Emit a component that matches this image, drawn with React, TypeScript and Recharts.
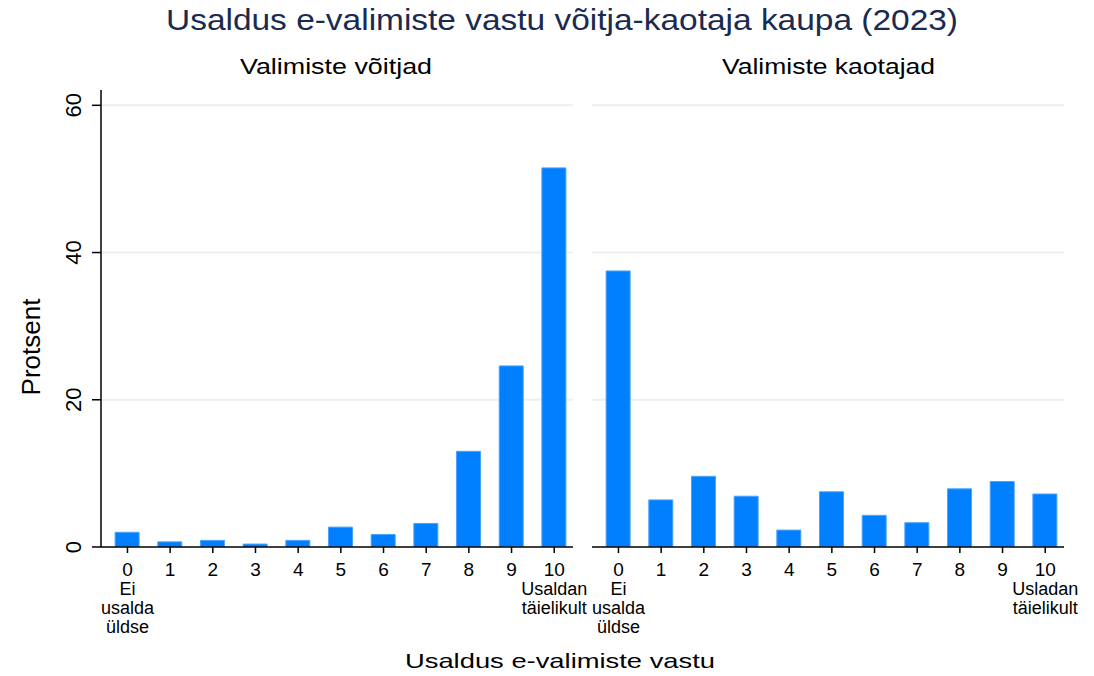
import React from "react";
import { BarChart, Bar, XAxis, YAxis, CartesianGrid } from "recharts";

const categories = [0, 1, 2, 3, 4, 5, 6, 7, 8, 9, 10];
const winners = [2.0, 0.7, 0.9, 0.4, 0.9, 2.7, 1.7, 3.2, 13.0, 24.6, 51.5];
const losers = [37.5, 6.4, 9.6, 6.9, 2.3, 7.5, 4.3, 3.3, 7.9, 8.9, 7.2];
const yTicks = [0, 20, 40, 60];
const winnerTickLabels: Record<number, string[]> = {
  0: ["0", "Ei", "usalda", "üldse"],
  10: ["10", "Usaldan", "täielikult"],
};
const loserTickLabels: Record<number, string[]> = {
  0: ["0", "Ei", "usalda", "üldse"],
  10: ["10", "Usladan", "täielikult"],
};

const TITLE = "Usaldus e-valimiste vastu võitja-kaotaja kaupa (2023)";
const PANEL_LEFT = "Valimiste võitjad";
const PANEL_RIGHT = "Valimiste kaotajad";
const X_TITLE = "Usaldus e-valimiste vastu";
const Y_TITLE = "Protsent";

const FONT = "'Liberation Sans', Arial, Helvetica, sans-serif";
const BAR_FILL = "#0080ff";
const BAR_STROKE = "#4aa3ff";
const GRID = "#e9f1f3";

const winnersData = categories.map((c, i) => ({ x: c, v: winners[i] }));
const losersData = categories.map((c, i) => ({ x: c, v: losers[i] }));

const makeXTick = (labels: Record<number, string[]>) => (props: any) => {
  const { x, y, payload } = props;
  const lines = labels[payload.value] ?? [String(payload.value)];
  return (
    <text x={x} y={y} textAnchor="middle" fontFamily={FONT} fontSize={18} fill="#000">
      {lines.map((l, i) => (
        <tspan key={i} x={x} dy={i === 0 ? 21 : 19} fontSize={i === 0 ? 19 : 18}>
          {l}
        </tspan>
      ))}
    </text>
  );
};

const YTick = (props: any) => {
  const { y, payload } = props;
  const bx = 81;
  return (
    <text
      x={bx}
      y={y}
      transform={`rotate(-90, ${bx}, ${y})`}
      textAnchor="middle"
      fontFamily={FONT}
      fontSize={22}
      fill="#000"
    >
      {payload.value}
    </text>
  );
};

const Y_DOMAIN: [number, number] = [0, 62.08];
const X_DOMAIN: [number, number] = [-0.62, 10.44];

export default function App() {
  return (
    <div
      style={{
        position: "absolute",
        left: 0,
        top: 0,
        width: 1094,
        height: 676,
        background: "#fff",
        fontFamily: FONT,
      }}
    >
      <style>{`.recharts-surface { overflow: visible; }`}</style>
      <svg width={1094} height={676} style={{ position: "absolute", left: 0, top: 0 }}>
        <text
          x={562}
          y={30}
          textAnchor="middle"
          fontFamily={FONT}
          fontSize={30}
          fill="#1a2a50"
          textLength={792}
          lengthAdjust="spacingAndGlyphs"
        >
          {TITLE}
        </text>
        <text
          x={336}
          y={74}
          textAnchor="middle"
          fontFamily={FONT}
          fontSize={22}
          fill="#000"
          textLength={192}
          lengthAdjust="spacingAndGlyphs"
        >
          {PANEL_LEFT}
        </text>
        <text
          x={828.5}
          y={74}
          textAnchor="middle"
          fontFamily={FONT}
          fontSize={22}
          fill="#000"
          textLength={213}
          lengthAdjust="spacingAndGlyphs"
        >
          {PANEL_RIGHT}
        </text>
        <text
          x={560}
          y={668}
          textAnchor="middle"
          fontFamily={FONT}
          fontSize={21}
          fill="#000"
          textLength={310}
          lengthAdjust="spacingAndGlyphs"
        >
          {X_TITLE}
        </text>
        <text
          x={40}
          y={347}
          transform="rotate(-90, 40, 347)"
          textAnchor="middle"
          fontFamily={FONT}
          fontSize={26}
          fill="#000"
        >
          {Y_TITLE}
        </text>
      </svg>
      <div style={{ position: "absolute", left: 0, top: 0 }}>
        <BarChart
          width={580}
          height={676}
          data={winnersData}
          margin={{ top: 90, right: 7, bottom: 0, left: 0 }}
          barSize={24}
        >
          <CartesianGrid
            horizontal
            vertical={false}
            stroke={GRID}
            strokeWidth={2}
            horizontalValues={[20, 40, 60]}
          />
          <XAxis
            dataKey="x"
            type="number"
            domain={X_DOMAIN}
            ticks={categories}
            interval={0}
            allowDataOverflow
            height={129}
            stroke="#000"
            strokeWidth={1.5}
            tickSize={6}
            tickLine={{ stroke: "#000", strokeWidth: 1.5 }}
            tick={makeXTick(winnerTickLabels)}
          />
          <YAxis
            type="number"
            domain={Y_DOMAIN}
            ticks={yTicks}
            interval={0}
            allowDataOverflow
            width={101}
            stroke="#000"
            strokeWidth={1.5}
            tickSize={9}
            tickLine={{ stroke: "#000", strokeWidth: 1.5 }}
            tick={<YTick />}
          />
          <Bar dataKey="v" fill={BAR_FILL} stroke={BAR_STROKE} strokeWidth={1} isAnimationActive={false} />
        </BarChart>
      </div>
      <div style={{ position: "absolute", left: 580, top: 0 }}>
        <BarChart
          width={514}
          height={676}
          data={losersData}
          margin={{ top: 90, right: 30, bottom: 0, left: 12 }}
          barSize={24}
        >
          <CartesianGrid
            horizontal
            vertical={false}
            stroke={GRID}
            strokeWidth={2}
            horizontalValues={[20, 40, 60]}
          />
          <XAxis
            dataKey="x"
            type="number"
            domain={X_DOMAIN}
            ticks={categories}
            interval={0}
            allowDataOverflow
            height={129}
            stroke="#000"
            strokeWidth={1.5}
            tickSize={6}
            tickLine={{ stroke: "#000", strokeWidth: 1.5 }}
            tick={makeXTick(loserTickLabels)}
          />
          <YAxis type="number" domain={Y_DOMAIN} ticks={yTicks} allowDataOverflow hide />
          <Bar dataKey="v" fill={BAR_FILL} stroke={BAR_STROKE} strokeWidth={1} isAnimationActive={false} />
        </BarChart>
      </div>
    </div>
  );
}
